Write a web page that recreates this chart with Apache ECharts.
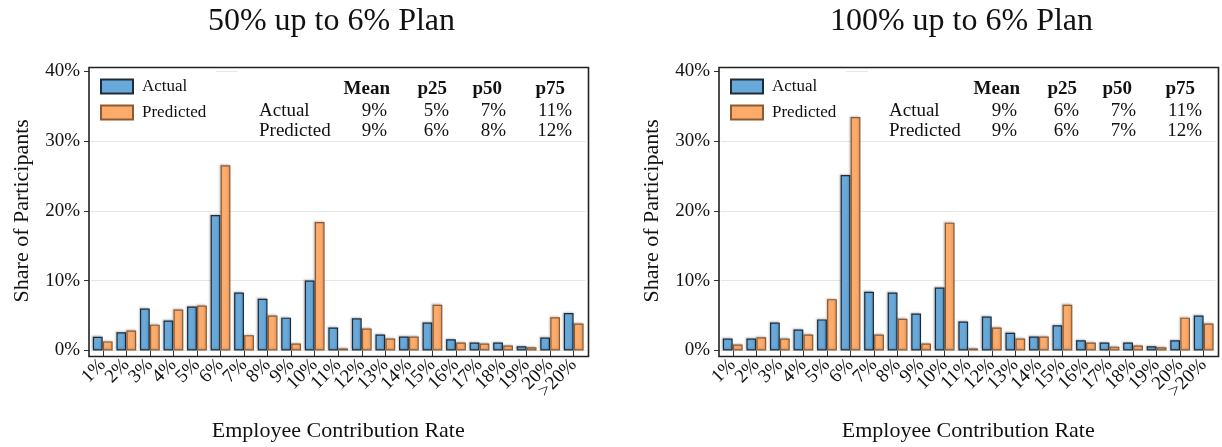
<!DOCTYPE html>
<html>
<head>
<meta charset="utf-8">
<script src="https://cdn.jsdelivr.net/npm/echarts@6/dist/echarts.min.js"></script>
<style>
  html, body { margin: 0; padding: 0; background: #fff; }
  #chart { width: 1222px; height: 447px; }
</style>
</head>
<body>
<div id="chart"></div>
<script>
// Contribution-rate categories shared by both panels
const categories = ['1%', '2%', '3%', '4%', '5%', '6%', '7%', '8%', '9%', '10%', '11%',
  '12%', '13%', '14%', '15%', '16%', '17%', '18%', '19%', '20%', '>20%'];

// Share of participants (%) — 50% match up to 6%
const actual50 = [1.95, 2.6, 6.0, 4.3, 6.3, 19.4, 8.3, 7.4, 4.7, 10.0, 3.3,
  4.6, 2.3, 2.0, 4.0, 1.6, 1.15, 1.15, 0.6, 1.85, 5.35];
const predicted50 = [1.3, 2.85, 3.7, 5.85, 6.45, 26.5, 2.2, 5.0, 1.0, 18.4, 0.3,
  3.15, 1.7, 2.0, 6.55, 1.15, 1.0, 0.7, 0.45, 4.75, 3.85];

// Share of participants (%) — 100% match up to 6%
const actual100 = [1.7, 1.7, 4.0, 3.0, 4.45, 25.1, 8.4, 8.3, 5.3, 9.0, 4.15,
  4.85, 2.55, 2.0, 3.6, 1.45, 1.15, 1.15, 0.6, 1.45, 5.0];
const predicted100 = [0.85, 1.9, 1.7, 2.3, 7.35, 33.4, 2.3, 4.55, 1.0, 18.3, 0.3,
  3.3, 1.7, 2.0, 6.55, 1.15, 0.55, 0.7, 0.45, 4.7, 3.85];

// Summary statistics table
const statHeaders = ['Mean', 'p25', 'p50', 'p75'];
const statRows = ['Actual', 'Predicted'];
const stats50 = [[9, 5, 7, 11], [9, 6, 8, 12]];
const stats100 = [[9, 6, 7, 11], [9, 6, 7, 12]];

const panelTitles = ['50% up to 6% Plan', '100% up to 6% Plan'];
const yTicks = { min: 0, max: 40, interval: 10 };

const FONT = "'Liberation Serif', 'Times New Roman', serif";
const INK = '#111';
const BLUE = '#68a9d9', BLUE_EDGE = '#1d2b3b';
const ORANGE = '#fdab6b', ORANGE_EDGE = '#8a5a33';

const PANEL_SHIFT = 630;          // horizontal offset between the two panels
const FRAME = { x: 89, y: 67.5, w: 499.5, h: 289 };
const GRID = { left: 91, top: 71, width: 494.5, height: 282 };

const chart = echarts.init(document.getElementById('chart'), null, { renderer: 'canvas' });

const panels = [
  { title: panelTitles[0], actual: actual50, predicted: predicted50, stats: stats50 },
  { title: panelTitles[1], actual: actual100, predicted: predicted100, stats: stats100 }
];

const grids = [], xAxes = [], yAxes = [], series = [], legends = [], graphics = [];

panels.forEach((p, i) => {
  const dx = i * PANEL_SHIFT;
  grids.push({ left: GRID.left + dx, top: GRID.top, width: GRID.width, height: GRID.height, containLabel: false });

  xAxes.push({
    type: 'category', gridIndex: i, data: categories, offset: 3.5,
    axisLine: { show: false },
    axisTick: { show: true, alignWithLabel: true, length: 6, lineStyle: { color: '#333', width: 1 } },
    axisLabel: { rotate: 45, margin: 8, fontFamily: FONT, fontSize: 19, color: INK, interval: 0 },
    name: 'Employee Contribution Rate', nameLocation: 'middle', nameGap: 66,
    nameTextStyle: { fontFamily: FONT, fontSize: 22, color: INK },
    splitLine: { show: false }
  });

  yAxes.push({
    type: 'value', gridIndex: i, min: yTicks.min, max: yTicks.max, interval: yTicks.interval, offset: 2,
    axisLine: { show: false },
    axisTick: { show: true, length: 5, lineStyle: { color: '#333', width: 1 } },
    axisLabel: { formatter: '{value}%', margin: 9, fontFamily: FONT, fontSize: 19, color: INK },
    splitLine: { show: true, lineStyle: { color: '#e6e6e6', width: 1 } },
    name: 'Share of Participants', nameLocation: 'middle', nameGap: 56, nameRotate: 90,
    nameTextStyle: { fontFamily: FONT, fontSize: 22, color: INK }
  });

  const barCommon = {
    type: 'bar', xAxisIndex: i, yAxisIndex: i, barWidth: 9.8, barGap: '2%',
    animation: false, z: 3
  };
  series.push(Object.assign({}, barCommon, {
    name: 'Actual', data: p.actual,
    itemStyle: { color: BLUE, borderColor: BLUE_EDGE, borderWidth: 1.2,
      shadowColor: 'rgba(0,0,0,0.18)', shadowBlur: 2, shadowOffsetX: -1, shadowOffsetY: -1 }
  }));
  series.push(Object.assign({}, barCommon, {
    name: 'Predicted', data: p.predicted,
    itemStyle: { color: ORANGE, borderColor: ORANGE_EDGE, borderWidth: 1.2,
      shadowColor: 'rgba(0,0,0,0.18)', shadowBlur: 2, shadowOffsetX: -1, shadowOffsetY: -1 }
  }));

  legends.push({
    data: ['Actual', 'Predicted'], orient: 'vertical', left: 92 + dx, top: 70,
    icon: 'rect', itemWidth: 32, itemHeight: 14, itemGap: 9,
    padding: [8, 10, 6, 8], backgroundColor: '#fff', selectedMode: false,
    textStyle: { fontFamily: FONT, fontSize: 17, color: INK, padding: [0, 0, 0, 4] }
  });

  // panel title
  graphics.push({
    type: 'text', z: 10,
    style: { text: p.title, x: 331.5 + dx, y: 22, font: "32px " + FONT, fill: INK,
      textAlign: 'center', textVerticalAlign: 'middle', align: 'center', verticalAlign: 'middle' }
  });

  // plot frame
  graphics.push({
    type: 'rect', z: 20, silent: true,
    shape: { x: FRAME.x + dx, y: FRAME.y, width: FRAME.w, height: FRAME.h },
    style: { fill: 'none', stroke: '#222', lineWidth: 1.6 }
  });

  // statistics table backdrop
  graphics.push({
    type: 'rect', z: 1, silent: true,
    shape: { x: 238 + dx, y: 69, width: 349, height: 68 },
    style: { fill: '#fff' }
  });

  const headRight = [390, 447, 502, 565];
  const valRight = [387, 449, 506, 572];
  const rowY = [89.5, 111, 131];
  statHeaders.forEach((h, c) => {
    graphics.push({
      type: 'text', z: 10,
      style: { text: h, x: headRight[c] + dx, y: rowY[0], font: "bold 19px " + FONT, fill: INK,
        textAlign: 'right', textVerticalAlign: 'middle', align: 'right', verticalAlign: 'middle' }
    });
  });
  statRows.forEach((r, ri) => {
    graphics.push({
      type: 'text', z: 10,
      style: { text: r, x: 259 + dx, y: rowY[ri + 1], font: "19px " + FONT, fill: INK,
        textAlign: 'left', textVerticalAlign: 'middle', align: 'left', verticalAlign: 'middle' }
    });
    p.stats[ri].forEach((v, c) => {
      graphics.push({
        type: 'text', z: 10,
        style: { text: v + '%', x: valRight[c] + dx, y: rowY[ri + 1], font: "19px " + FONT, fill: INK,
          textAlign: 'right', textVerticalAlign: 'middle', align: 'right', verticalAlign: 'middle' }
      });
    });
  });
});

chart.setOption({
  backgroundColor: '#fff',
  animation: false,
  textStyle: { fontFamily: FONT },
  grid: grids,
  xAxis: xAxes,
  yAxis: yAxes,
  legend: legends,
  series: series,
  graphic: { elements: graphics }
});
</script>
</body>
</html>
